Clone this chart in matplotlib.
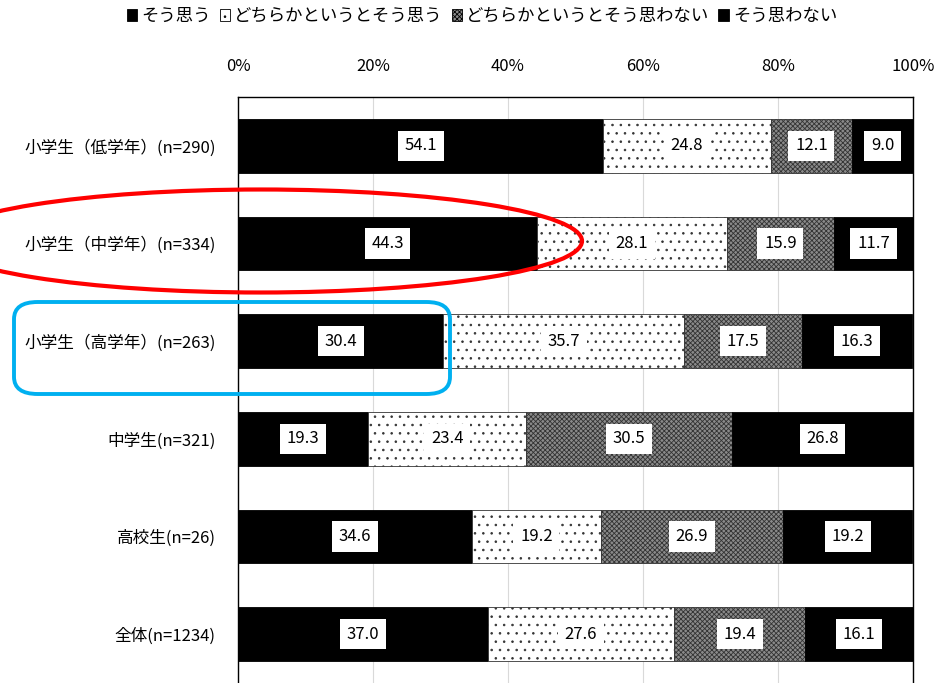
import matplotlib
matplotlib.use('Agg')
import matplotlib.pyplot as plt
from matplotlib.patches import Patch, Ellipse, FancyBboxPatch
import numpy as np

plt.rcParams['font.family'] = ['Noto Sans CJK JP', 'DejaVu Sans']
plt.rcParams['hatch.linewidth'] = 0.6

categories = ['小学生（低学年）(n=290)', '小学生（中学年）(n=334)', '小学生（高学年）(n=263)',
              '中学生(n=321)', '高校生(n=26)', '全体(n=1234)']
series_names = ['そう思う', 'どちらかというとそう思う', 'どちらかというとそう思わない', 'そう思わない']
agree = [54.1, 44.3, 30.4, 19.3, 34.6, 37.0]
rather_agree = [24.8, 28.1, 35.7, 23.4, 19.2, 27.6]
rather_disagree = [12.1, 15.9, 17.5, 30.5, 26.9, 19.4]
disagree = [9.0, 11.7, 16.3, 26.8, 19.2, 16.1]
tick_labels = ['0%', '20%', '40%', '60%', '80%', '100%']

series = [agree, rather_agree, rather_disagree, disagree]
faces = ['black', 'white', '#8a8a8a', 'black']
hatches = [None, '..', 'xxxxxxx', None]

fig = plt.figure(figsize=(9.5, 6.83), dpi=100)
ax = fig.add_axes([238 / 950, 0.0, (913 - 238) / 950, 1 - 97 / 683])

y = np.arange(len(categories))
left = np.zeros(len(categories))
for vals, fc, h in zip(series, faces, hatches):
    vals = np.array(vals)
    ax.barh(y, vals, left=left, height=0.55, color=fc, hatch=h,
            edgecolor='#333333' if h else 'black', linewidth=0.6, zorder=3)
    for yi, l, v in zip(y, left, vals):
        ax.text(l + v / 2, yi, f'{v:.1f}', ha='center', va='center', fontsize=12,
                zorder=5, bbox=dict(boxstyle='square,pad=0.4', fc='white', ec='none'))
    left += vals

ax.set_xlim(0, 100)
ax.set_ylim(len(categories) - 0.5, -0.5)
ax.set_xticks([0, 20, 40, 60, 80, 100])
ax.set_xticklabels(tick_labels, fontsize=12)
ax.xaxis.tick_top()
ax.tick_params(axis='x', length=0, pad=16)
ax.set_yticks(y)
ax.set_yticklabels(categories, fontsize=12)
ax.tick_params(axis='y', length=0, pad=16)
ax.grid(axis='x', color='#d9d9d9', linewidth=0.8, zorder=0)
for side in ['top', 'right', 'left']:
    ax.spines[side].set_color('black')
    ax.spines[side].set_linewidth(1)
ax.spines['bottom'].set_visible(False)

handles = [Patch(facecolor=fc, hatch=h, edgecolor='black', linewidth=0.6)
           for fc, h in zip(faces, hatches)]
fig.legend(handles, series_names, loc='center', bbox_to_anchor=(482 / 950, 1 - 16 / 683),
           ncol=4, frameon=False, fontsize=12.5, handlelength=0.6, handleheight=0.7,
           handletextpad=0.25, columnspacing=0.5)

# annotations
ell = Ellipse((261 / 950, 1 - 241 / 683), 642 / 950, 103 / 683, transform=fig.transFigure,
              fill=False, edgecolor='#ff0000', linewidth=3, zorder=10)
fig.patches.append(ell)
box = FancyBboxPatch((14 / 950, 1 - 394 / 683), 436 / 950, 92 / 683,
                     boxstyle='round,pad=0,rounding_size=0.025', transform=fig.transFigure,
                     fill=False, edgecolor='#00b0f0', linewidth=2.8, zorder=10)
fig.patches.append(box)

plt.savefig('out.png', dpi=100)
plt.close()
